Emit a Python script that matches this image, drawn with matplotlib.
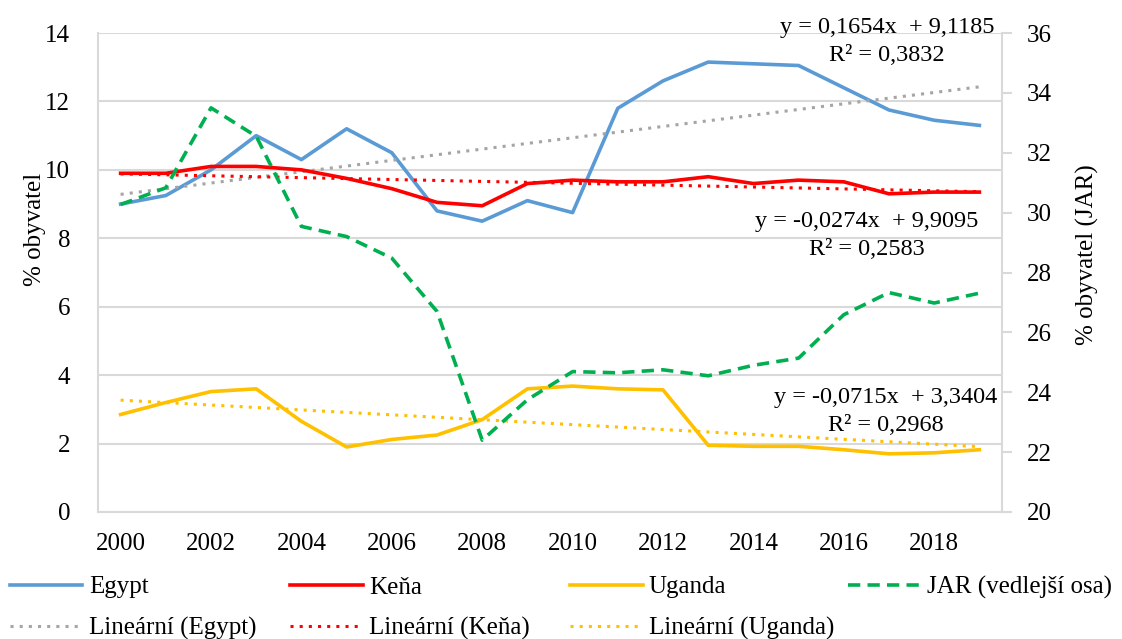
import numpy as np
import matplotlib
matplotlib.use('Agg')
from matplotlib import pyplot as plt

plt.rcParams['font.family'] = ['Liberation Serif', 'DejaVu Serif']

# Data
years = np.arange(2000, 2020)
egypt = [9.0, 9.25, 10.0, 11.0, 10.3, 11.2, 10.5, 8.8, 8.5, 9.1,
         8.75, 11.8, 12.6, 13.15, 13.1, 13.05, 12.4, 11.75, 11.45, 11.3]
kena = [9.9, 9.9, 10.1, 10.1, 10.0, 9.75, 9.45, 9.05, 8.95, 9.6,
        9.7, 9.65, 9.65, 9.8, 9.6, 9.7, 9.65, 9.3, 9.35, 9.35]
uganda = [2.85, 3.2, 3.52, 3.6, 2.65, 1.9, 2.12, 2.25, 2.7, 3.6,
          3.68, 3.6, 3.57, 1.95, 1.92, 1.92, 1.82, 1.7, 1.73, 1.82]
jar = [30.27, 30.83, 33.5, 32.55, 29.54, 29.2, 28.48, 26.7, 22.4, 23.75,
       24.69, 24.65, 24.75, 24.55, 24.9, 25.14, 26.59, 27.33, 26.98, 27.31]

# Trendline coefficients (x = 1..20)
trend_egypt = (0.1654, 9.1185)
trend_kena = (-0.0274, 9.9095)
trend_uganda = (-0.0715, 3.3404)

eq_egypt = ['y = 0,1654x  + 9,1185', 'R² = 0,3832']
eq_kena = ['y = -0,0274x  + 9,9095', 'R² = 0,2583']
eq_uganda = ['y = -0,0715x  + 3,3404', 'R² = 0,2968']

c_egypt = '#5b9bd5'
c_kena = '#ff0000'
c_uganda = '#ffc000'
c_jar = '#00b050'
c_grid = '#d9d9d9'

fs = 18

fig = plt.figure(figsize=(11.22, 6.39), dpi=100)
ax = fig.add_axes([98 / 1122, 1 - 512 / 639, 904 / 1122, 479 / 639])
ax2 = ax.twinx()

xi = np.arange(1, len(years) + 1)
dot = (0, (1, 2))
lw = 2.6

l_e, = ax.plot(years, egypt, color=c_egypt, lw=lw, label='Egypt')
t_e, = ax.plot(years, trend_egypt[0] * xi + trend_egypt[1], color='#a5a5a5',
               lw=2.2, ls=dot, label='Lineární (Egypt)')
l_k, = ax.plot(years, kena, color=c_kena, lw=lw, label='Keňa')
t_k, = ax.plot(years, trend_kena[0] * xi + trend_kena[1], color=c_kena,
               lw=2.2, ls=dot, label='Lineární (Keňa)')
l_u, = ax.plot(years, uganda, color=c_uganda, lw=lw, label='Uganda')
t_u, = ax.plot(years, trend_uganda[0] * xi + trend_uganda[1], color=c_uganda,
               lw=2.2, ls=dot, label='Lineární (Uganda)')
l_j, = ax2.plot(years, jar, color=c_jar, lw=lw, ls=(0, (3.4, 2.0)),
                label='JAR (vedlejší osa)')

ax.set_xlim(1999.5, 2019.5)
ax.set_ylim(0, 14)
ax2.set_ylim(20, 36)
ax.set_yticks(np.arange(0, 15, 2))
ax2.set_yticks(np.arange(20, 37, 2))
ax.set_xticks(np.arange(2000, 2020, 2))

ax.grid(axis='y', color=c_grid, lw=1.5)
ax.set_axisbelow(True)
for a in (ax, ax2):
    for s in a.spines.values():
        s.set_visible(False)
ax.spines['left'].set_visible(True)
ax.spines['bottom'].set_visible(True)
ax2.spines['right'].set_visible(True)
for s in (ax.spines['left'], ax.spines['bottom'], ax2.spines['right']):
    s.set_color(c_grid)
    s.set_linewidth(1.5)

ax.tick_params(axis='y', length=0, pad=20, labelsize=fs)
ax.tick_params(axis='x', length=0, pad=15, labelsize=fs)
ax2.tick_params(axis='y', length=7, width=1.5, color=c_grid, pad=11,
                labelsize=fs)

ax.set_ylabel('% obyvatel', fontsize=fs)
ax.yaxis.set_label_coords(-0.058, 0.59)
ax2.set_ylabel('% obyvatel (JAR)', fontsize=fs)
ax2.yaxis.set_label_coords(1.082, 0.537)

for eq, x, y in ((eq_egypt, 0.873, 1.012), (eq_kena, 0.85, 0.607),
                 (eq_uganda, 0.871, 0.24)):
    ax.text(x, y, eq[0], transform=ax.transAxes, ha='center', va='center',
            fontsize=fs - 0.5)
    ax.text(x, y - 0.06, eq[1], transform=ax.transAxes, ha='center',
            va='center', fontsize=fs - 0.5)

# Legend: four evenly spaced columns like Excel
columns = [[l_e, t_e], [l_k, t_k], [l_u, t_u], [l_j]]
col_x = [10, 290, 570, 848]
for col, x in zip(columns, col_x):
    fig.legend(handles=col, labels=[h.get_label() for h in col],
               loc='upper left', bbox_to_anchor=(x / 1122, 1 - 576 / 639),
               frameon=False, fontsize=fs, handlelength=2.9,
               handletextpad=0.25, labelspacing=0.75, borderaxespad=0,
               borderpad=0)

fig.savefig('out.png', dpi=100)
